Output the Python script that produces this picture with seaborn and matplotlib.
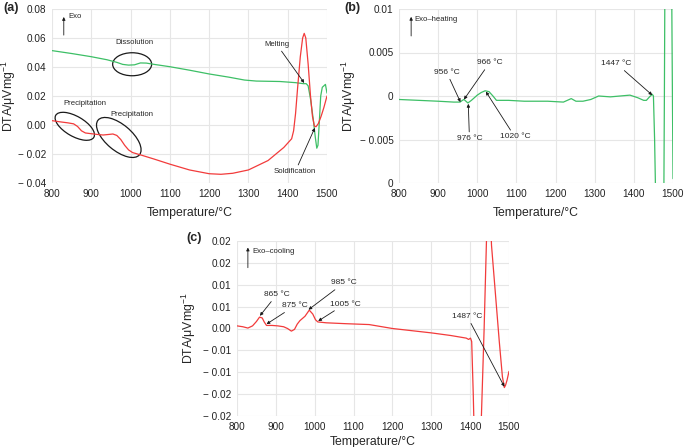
import numpy as np
import pandas as pd
import seaborn as sns
import matplotlib
matplotlib.use("Agg")
import matplotlib.pyplot as plt
from matplotlib.patches import Ellipse
from matplotlib.transforms import ScaledTranslation

# ---------------- data ----------------
a_heat_temp = [800, 850, 900, 940, 965, 980, 995, 1010, 1025, 1040, 1060, 1100, 1150, 1200, 1250,
               1290, 1320, 1380, 1420, 1440, 1447, 1452, 1458, 1465, 1470, 1474, 1477, 1480, 1484,
               1488, 1492, 1496, 1500]
a_heat_dta = [0.0513, 0.0493, 0.0471, 0.0450, 0.0432, 0.0418, 0.0413, 0.0415, 0.0428, 0.0427, 0.0418,
              0.0402, 0.0378, 0.0352, 0.0330, 0.0310, 0.0303, 0.0300, 0.0292, 0.0285, 0.0285, 0.0270,
              0.0180, 0.0040, -0.0080, -0.0160, -0.0140, 0.0000, 0.0200, 0.0260, 0.0270, 0.0280, 0.0220]

a_cool_temp = [800, 820, 840, 855, 865, 875, 885, 900, 915, 930, 945, 955, 965, 975, 985, 995, 1005,
               1030, 1060, 1100, 1150, 1200, 1230, 1260, 1300, 1350, 1390, 1405, 1410, 1415, 1420,
               1425, 1432, 1438, 1442, 1446, 1452, 1458, 1463, 1468, 1472, 1478, 1485, 1492, 1500]
a_cool_dta = [0.0030, 0.0022, 0.0015, 0.0008, -0.0010, -0.0040, -0.0055, -0.0060, -0.0065, -0.0069,
              -0.0065, -0.0062, -0.0072, -0.0100, -0.0140, -0.0172, -0.0190, -0.0210, -0.0235, -0.0270,
              -0.0310, -0.0336, -0.0340, -0.0333, -0.0310, -0.0245, -0.0155, -0.0110, -0.0095, -0.0040,
              0.0080, 0.0250, 0.0470, 0.0600, 0.0632, 0.0600, 0.0420, 0.0200, 0.0060, -0.0008, -0.0012,
              0.0010, 0.0060, 0.0120, 0.0200]

b_temp = [800, 850, 900, 940, 956, 962, 966, 971, 976, 985, 1000, 1010, 1020, 1030, 1040, 1049, 1080,
          1120, 1180, 1220, 1240, 1252, 1270, 1290, 1300, 1310, 1340, 1390, 1410, 1425, 1432, 1440,
          1447, 1450, 1453, 1457, 1465, 1475, 1478, 1481, 1490, 1497, 1500]
b_dta = [-0.0004, -0.0005, -0.0006, -0.0007, -0.0007, -0.0005, -0.0004, -0.0006, -0.0008, -0.0005,
         0.0001, 0.0004, 0.0006, 0.0005, 0.0000, -0.0005, -0.0005, -0.0006, -0.0006, -0.0007, -0.0003,
         -0.0006, -0.0006, -0.0004, -0.0002, 0.0000, -0.0001, 0.0001, -0.0002, -0.0005, -0.0005,
         -0.0001, 0.0002, 0.0000, -0.0050, -0.0150, -0.0250, -0.0250, 0.0000, 0.0300, 0.0300, 0.0100,
         -0.0095]

c_temp = [800, 815, 828, 840, 850, 858, 865, 870, 876, 890, 905, 920, 930, 940, 948, 955, 962, 975,
          986, 995, 1002, 1008, 1030, 1080, 1140, 1200, 1250, 1300, 1350, 1390, 1396, 1401, 1404,
          1408, 1412, 1418, 1423, 1429, 1436, 1442, 1447, 1451, 1455, 1465, 1475, 1483, 1488, 1491,
          1495, 1500]
c_dta = [0.0006, 0.0004, 0.0001, 0.0006, 0.0016, 0.0026, 0.0024, 0.0015, 0.0007, 0.0007, 0.0006,
         0.0004, 0.0000, -0.0006, -0.0002, 0.0010, 0.0018, 0.0028, 0.0042, 0.0033, 0.0020, 0.0015,
         0.0013, 0.0011, 0.0009, 0.0000, -0.0005, -0.0010, -0.0016, -0.0022, -0.0025, -0.0022,
         -0.0030, -0.0150, -0.0300, -0.0400, -0.0300, -0.0200, 0.0000, 0.0200, 0.0300, 0.0280,
         0.0190, 0.0080, -0.0030, -0.0110, -0.0135, -0.0130, -0.0118, -0.0098]

x_ticks = [800, 900, 1000, 1100, 1200, 1300, 1400, 1500]
a_yticks = [-0.04, -0.02, 0.00, 0.02, 0.04, 0.06, 0.08]
a_ylabels = ["\u2212 0.04", "\u2212 0.02", "0.00", "0.02", "0.04", "0.06", "0.08"]
b_yticks = [-0.01, -0.005, 0.0, 0.005, 0.01]
b_ylabels = ["0", "\u2212 0.005", "0", "0.005", "0.01"]
c_yticks = [-0.02, -0.015, -0.01, -0.005, 0.0, 0.005, 0.01, 0.015, 0.02]
c_ylabels = ["\u2212 0.02", "\u2212 0.02", "\u2212 0.01", "\u2212 0.01", "0.00", "0.01", "0.01", "0.02", "0.02"]

GREEN = "#3dbf66"
RED = "#f23b3b"

# ---------------- style ----------------
sns.set_theme(style="whitegrid")
plt.rcParams["font.family"] = ["Liberation Sans", "DejaVu Sans"]
plt.rcParams["mathtext.fontset"] = "custom"
plt.rcParams["mathtext.rm"] = "Liberation Sans"
plt.rcParams["mathtext.it"] = "Liberation Sans:italic"

fig = plt.figure(figsize=(6.85, 4.47), dpi=100)
ax_a = fig.add_axes([52/685, 1-183/447, 275/685, 174/447])
ax_b = fig.add_axes([399/685, 1-183/447, 274/685, 174/447])
ax_c = fig.add_axes([237/685, 1-416/447, 272/685, 175/447])

TICK_FS = 7.2
LAB_FS = 8.8

def style(ax, yt, yl, ylim, xpad, ylab_x):
    ax.set_xlim(800, 1500)
    ax.set_ylim(*ylim)
    ax.set_xticks(x_ticks)
    ax.set_xticklabels([str(t) for t in x_ticks], fontsize=TICK_FS)
    ax.set_yticks(yt)
    ax.set_yticklabels(yl, fontsize=TICK_FS)
    ax.tick_params(axis="both", length=0, pad=4, colors="#222222")
    for s in ax.spines.values():
        s.set_visible(False)
    ax.set_facecolor("white")
    ax.grid(True, color="#e6e6e6", lw=0.8)
    ax.set_xlabel("Temperature/\u00b0C", fontsize=LAB_FS, labelpad=xpad)
    ax.set_ylabel("DTA/\u03bcVmg$^{\u2212 1}$", fontsize=LAB_FS)
    ax.yaxis.set_label_coords(ylab_x, 0.5)

ARW = dict(arrowstyle="-|>", lw=0.6, color="k", mutation_scale=4.5, shrinkA=0, shrinkB=0)
TFS = 5.6
DFS = 6.0

# ---------------- (a) ----------------
sns.lineplot(x=a_heat_temp, y=a_heat_dta, ax=ax_a, color=GREEN, lw=0.9, estimator=None, sort=False)
sns.lineplot(x=a_cool_temp, y=a_cool_dta, ax=ax_a, color=RED, lw=0.9, estimator=None, sort=False)
style(ax_a, a_yticks, a_ylabels, (-0.04, 0.08), 6, -0.125)
ax_a.annotate("", xy=(830, 0.0745), xytext=(830, 0.062), arrowprops=ARW)
ax_a.text(842, 0.0745, "Exo", fontsize=TFS, va="center", ha="left")
ax_a.text(1011, 0.0566, "Dissolution", fontsize=TFS, ha="center", va="center")
ax_a.text(884, 0.0150, "Precipitation", fontsize=TFS, ha="center", va="center")
ax_a.text(1004, 0.0069, "Precipitation", fontsize=TFS, ha="center", va="center")
ax_a.annotate("Melting", xy=(1442, 0.0290), xytext=(1372, 0.0556), fontsize=TFS,
              ha="center", va="center", arrowprops=ARW)
ax_a.annotate("Soldification", xy=(1469, -0.0020), xytext=(1419, -0.0322), fontsize=TFS,
              ha="center", va="center", arrowprops=ARW)
for (cx, cy, w, h, ang) in [(1004, 0.0419, 0.39, 0.23, 0), (858, -0.0009, 0.44, 0.20, -30),
                            (970, -0.0086, 0.54, 0.26, -40)]:
    tr = fig.dpi_scale_trans + ScaledTranslation(cx, cy, ax_a.transData)
    ax_a.add_patch(Ellipse((0, 0), w, h, angle=ang, fill=False, ec="#1a1a1a", lw=0.9, transform=tr))

# ---------------- (b) ----------------
sns.lineplot(x=b_temp, y=b_dta, ax=ax_b, color=GREEN, lw=0.9, estimator=None, sort=False)
style(ax_b, b_yticks, b_ylabels, (-0.01, 0.01), 6, -0.148)
ax_b.annotate("", xy=(831, 0.0091), xytext=(831, 0.0069), arrowprops=ARW)
ax_b.text(840, 0.0088, "Exo\u2013heating", fontsize=TFS, va="center", ha="left")
ax_b.annotate("956 \u00b0C", xy=(957, -0.0007), xytext=(922, 0.0027), fontsize=DFS,
              ha="center", va="center", arrowprops=ARW)
ax_b.annotate("966 \u00b0C", xy=(966, -0.0004), xytext=(1031, 0.0038), fontsize=DFS,
              ha="center", va="center", arrowprops=ARW)
ax_b.annotate("976 \u00b0C", xy=(977, -0.0009), xytext=(980, -0.0049), fontsize=DFS,
              ha="center", va="center", arrowprops=ARW)
ax_b.annotate("1020 \u00b0C", xy=(1022, 0.0005), xytext=(1096, -0.0047), fontsize=DFS,
              ha="center", va="center", arrowprops=ARW)
ax_b.annotate("1447 \u00b0C", xy=(1447, 0.0001), xytext=(1356, 0.0037), fontsize=DFS,
              ha="center", va="center", arrowprops=ARW)

# ---------------- (c) ----------------
sns.lineplot(x=c_temp, y=c_dta, ax=ax_c, color=RED, lw=0.9, estimator=None, sort=False)
style(ax_c, c_yticks, c_ylabels, (-0.02, 0.02), 3, -0.143)
ax_c.annotate("", xy=(828, 0.0185), xytext=(828, 0.0139), arrowprops=ARW)
ax_c.text(840, 0.0177, "Exo\u2013cooling", fontsize=TFS, va="center", ha="left")
ax_c.annotate("865 \u00b0C", xy=(859, 0.0029), xytext=(902, 0.0077), fontsize=DFS,
              ha="center", va="center", arrowprops=ARW)
ax_c.annotate("875 \u00b0C", xy=(876, 0.0010), xytext=(949, 0.0052), fontsize=DFS,
              ha="center", va="center", arrowprops=ARW)
ax_c.annotate("985 \u00b0C", xy=(984, 0.0043), xytext=(1075, 0.0104), fontsize=DFS,
              ha="center", va="center", arrowprops=ARW)
ax_c.annotate("1005 \u00b0C", xy=(1009, 0.0017), xytext=(1078, 0.0056), fontsize=DFS,
              ha="center", va="center", arrowprops=ARW)
ax_c.annotate("1487 \u00b0C", xy=(1488, -0.0133), xytext=(1393, 0.0027), fontsize=DFS,
              ha="center", va="center", arrowprops=ARW)

# panel labels
fig.text(3/685, 1-2/447, "(a)", fontsize=9, fontweight="bold", ha="left", va="top")
fig.text(344/685, 1-2/447, "(b)", fontsize=9, fontweight="bold", ha="left", va="top")
fig.text(186/685, 1-232/447, "(c)", fontsize=9, fontweight="bold", ha="left", va="top")

fig.savefig("out.png", dpi=100)
